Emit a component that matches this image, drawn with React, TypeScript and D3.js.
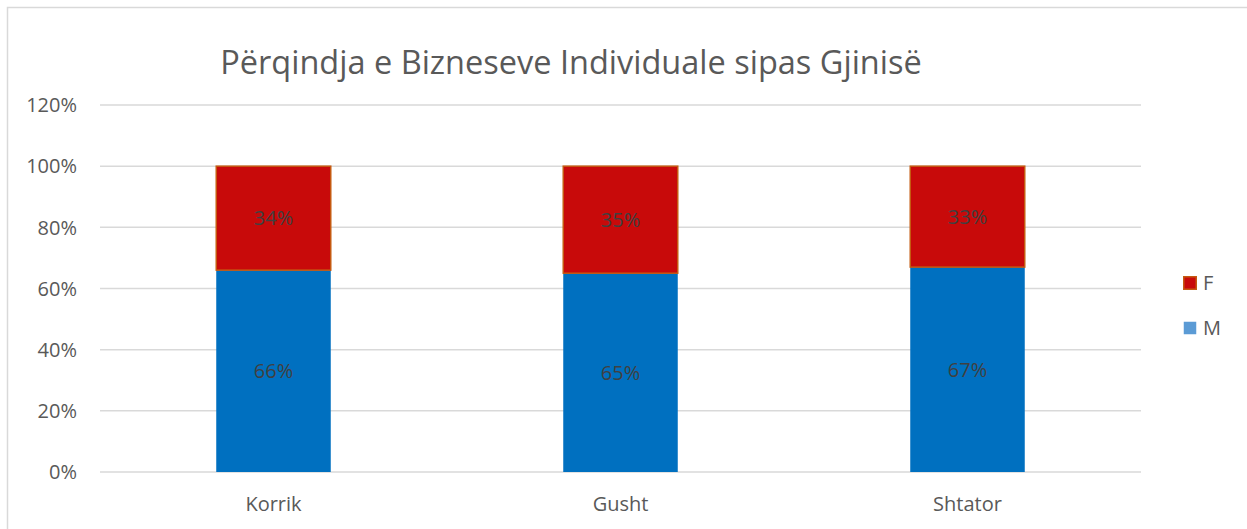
import { useEffect, useRef } from 'react'
import * as d3 from 'd3'

const months = ['Korrik', 'Gusht', 'Shtator']
const maleShare = [0.66, 0.65, 0.67]
const femaleShare = [0.34, 0.35, 0.33]
const yTicks = [0, 0.2, 0.4, 0.6, 0.8, 1.0, 1.2]
const title = 'Përqindja e Bizneseve Individuale sipas Gjinisë'

const W = 1247
const H = 529
const FONT = '"Open Sans", sans-serif'

export default function App() {
  const svgRef = useRef<SVGSVGElement>(null)

  useEffect(() => {
    document.body.style.margin = '0'
    if (!svgRef.current) return
    const svg = d3.select(svgRef.current)
    svg.selectAll('*').remove()

    const margin = { top: 105, right: 106, bottom: 57, left: 100 }
    const width = W - margin.left - margin.right
    const height = H - margin.top - margin.bottom

    // outer chart border
    svg.append('rect')
      .attr('x', 7.5).attr('y', 7.5)
      .attr('width', W + 10).attr('height', H + 10)
      .attr('fill', 'white')
      .attr('stroke', '#d9d9d9')
      .attr('stroke-width', 1.5)

    const g = svg.append('g').attr('transform', `translate(${margin.left},${margin.top})`)

    const x = d3.scaleBand().domain(months).range([0, width]).paddingInner(0.67).paddingOuter(0.335)
    const y = d3.scaleLinear().domain([0, 1.2]).range([height, 0])

    g.selectAll('line.grid')
      .data(yTicks)
      .join('line')
      .attr('class', 'grid')
      .attr('x1', 0).attr('x2', width)
      .attr('y1', d => y(d)).attr('y2', d => y(d))
      .attr('stroke', '#d9d9d9')
      .attr('stroke-width', 1.5)

    g.selectAll('text.ytick')
      .data(yTicks)
      .join('text')
      .attr('class', 'ytick')
      .attr('x', -23)
      .attr('y', d => y(d))
      .attr('dy', '0.36em')
      .attr('text-anchor', 'end')
      .attr('fill', '#595959')
      .style('font-family', FONT)
      .style('font-size', '20px')
      .text(d => d3.format('.0%')(d))

    const rows = months.map((m, i) => ({ m, male: maleShare[i], female: femaleShare[i] }))

    g.selectAll('rect.male')
      .data(rows)
      .join('rect')
      .attr('class', 'male')
      .attr('x', d => x(d.m)!)
      .attr('width', x.bandwidth())
      .attr('y', d => y(d.male))
      .attr('height', d => y(0) - y(d.male))
      .attr('fill', '#0070c0')

    g.selectAll('rect.female')
      .data(rows)
      .join('rect')
      .attr('class', 'female')
      .attr('x', d => x(d.m)!)
      .attr('width', x.bandwidth())
      .attr('y', d => y(d.male + d.female))
      .attr('height', d => y(d.male) - y(d.male + d.female))
      .attr('fill', '#c80a0a')
      .attr('stroke', '#c55a11')
      .attr('stroke-width', 1.5)

    g.selectAll('text.mlab')
      .data(rows)
      .join('text')
      .attr('class', 'mlab')
      .attr('x', d => x(d.m)! + x.bandwidth() / 2)
      .attr('y', d => y(d.male / 2))
      .attr('dy', '0.36em')
      .attr('text-anchor', 'middle')
      .attr('fill', '#404040')
      .style('font-family', FONT)
      .style('font-size', '20px')
      .text(d => d3.format('.0%')(d.male))

    g.selectAll('text.flab')
      .data(rows)
      .join('text')
      .attr('class', 'flab')
      .attr('x', d => x(d.m)! + x.bandwidth() / 2)
      .attr('y', d => y(d.male + d.female / 2))
      .attr('dy', '0.36em')
      .attr('text-anchor', 'middle')
      .attr('fill', '#404040')
      .style('font-family', FONT)
      .style('font-size', '20px')
      .text(d => d3.format('.0%')(d.female))

    g.selectAll('text.xtick')
      .data(months)
      .join('text')
      .attr('class', 'xtick')
      .attr('x', d => x(d)! + x.bandwidth() / 2)
      .attr('y', height + 39)
      .attr('text-anchor', 'middle')
      .attr('fill', '#595959')
      .style('font-family', FONT)
      .style('font-size', '20px')
      .text(d => d)

    svg.append('text')
      .attr('x', 571)
      .attr('y', 74)
      .attr('text-anchor', 'middle')
      .attr('fill', '#595959')
      .style('font-family', FONT)
      .style('font-size', '32.5px')
      .text(title)

    const legend = svg.append('g').attr('transform', 'translate(1183, 276)')
    const items = [
      { key: 'F', fill: '#c80a0a', stroke: '#c55a11' },
      { key: 'M', fill: '#5b9bd5', stroke: 'none' },
    ]
    items.forEach((it, i) => {
      const row = legend.append('g').attr('transform', `translate(0, ${i * 45})`)
      row.append('rect')
        .attr('x', 0.75).attr('y', 0.75)
        .attr('width', 12.5).attr('height', 12.5)
        .attr('fill', it.fill)
        .attr('stroke', it.stroke)
        .attr('stroke-width', 1.5)
      row.append('text')
        .attr('x', 20)
        .attr('y', 7)
        .attr('dy', '0.36em')
        .attr('fill', '#595959')
        .style('font-family', FONT)
        .style('font-size', '20px')
        .text(it.key)
    })
  }, [])

  return <svg ref={svgRef} width={W} height={H} style={{ display: 'block' }} />
}
